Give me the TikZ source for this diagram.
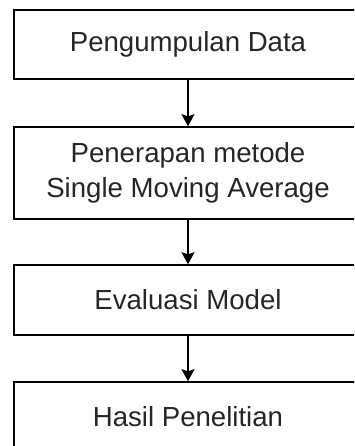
\documentclass[tikz,border=0pt]{standalone}
\usepackage{fontspec}
\setmainfont{Liberation Sans}
\usetikzlibrary{arrows.meta}

\tikzset{
	tahap/.style={draw, line width=1.5pt, minimum width=348pt, align=center,
		font=\fontsize{27.6}{34.5}\selectfont, text=black!85, inner sep=0pt},
	panah/.style={line width=1.5pt, -{Stealth[length=12pt,width=13pt,inset=2pt]}}
}

\begin{document}
\begin{tikzpicture}[x=1pt,y=1pt]
	\useasboundingbox (0,0) rectangle (354,-446);
	\clip (0,0) rectangle (354,-446);

	\node[tahap, minimum height=69pt] (kumpul) at (188,-44.5) {Pengumpulan Data};
	\node[tahap, minimum height=92pt] (metode) at (188,-173) {Penerapan metode\\Single Moving Average};
	\node[tahap, minimum height=70pt] (evaluasi) at (188,-300) {Evaluasi Model};
	\node[tahap, minimum height=70pt] (hasil) at (188,-417) {Hasil Penelitian};

	\draw[panah] (kumpul) -- (metode);
	\draw[panah] (metode) -- (evaluasi);
	\draw[panah] (evaluasi) -- (hasil);
\end{tikzpicture}
\end{document}
